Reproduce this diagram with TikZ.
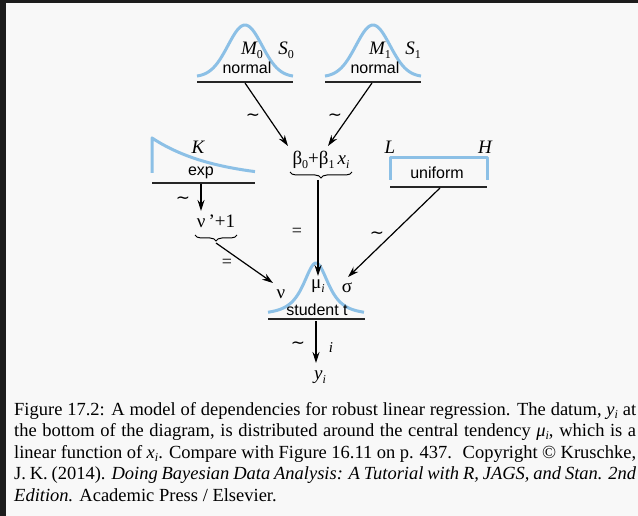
\documentclass[tikz,border=0pt]{standalone}
\usepackage{fontspec}
\setmainfont{Liberation Serif}
\newfontfamily\sansf{Liberation Sans}
\newfontfamily\dejav{DejaVu Sans}
\usetikzlibrary{arrows.meta,decorations.pathreplacing}
\definecolor{bgc}{RGB}{248,248,248}
\definecolor{edgec}{RGB}{28,28,28}
\definecolor{distblue}{RGB}{140,192,230}
\newcommand\sbu[1]{\raisebox{-0.45ex}{\fontsize{12}{12}\selectfont\upshape #1}}
\newcommand\sbi[1]{\raisebox{-0.45ex}{\fontsize{12}{12}\selectfont\itshape #1}}
\newcommand\csub[1]{\raisebox{-0.4ex}{\fontsize{12}{12}\selectfont\itshape #1}}
\newcommand\tld{{\dejav ∼}}
\newcommand\jline[1]{\makebox[622pt][s]{#1}}
\begin{document}
\begin{tikzpicture}[x=1pt,y=-1pt,
  dist/.style={distblue,line width=3pt,line join=round},
  ul/.style={black!85,line width=1.4pt},
  conn/.style={line width=1.2pt,-{Stealth[length=11pt,width=7pt]}},
  lbl/.style={font=\fontsize{16}{16}\selectfont\sansf,inner sep=0pt},
  var/.style={font=\fontsize{19}{19}\selectfont\itshape,inner sep=0pt},
  grk/.style={font=\fontsize{19}{19}\selectfont,inner sep=0pt},
  tl/.style={font=\fontsize{17}{17}\selectfont,inner sep=0pt},
  eqs/.style={font=\fontsize{18}{18}\selectfont,inner sep=0pt},
  brc/.style={decorate,decoration={brace,amplitude=6pt},line width=1pt},
  captxt/.style={font=\fontsize{18.5}{18.5}\selectfont,inner sep=0pt,anchor=base west}]
% background and frame
\fill[bgc] (0,0) rectangle (638,516);
\fill[edgec] (0,0) rectangle (6,516);
\fill[edgec] (0,0) rectangle (638,3);
\useasboundingbox (0,0) rectangle (638,516);

% normal 0
\draw[dist] plot[domain=-48:48,samples=70,smooth] ({245+\x},{77-52*exp(-(\x/17)^2/2)});
\draw[ul] (197,82) -- (293,82);
\coordinate (n0) at (245,83);
\node[var] (M0) at (252,50) {M\sbu{0}};
\node[var] (S0) at (286,50) {S\sbu{0}};
\node[lbl] (norm0) at (247,68) {normal};

% normal 1
\draw[dist] plot[domain=-48:48,samples=70,smooth] ({373+\x},{77-52*exp(-(\x/17)^2/2)});
\draw[ul] (325,82) -- (421,82);
\coordinate (n1) at (372,83);
\node[var] (M1) at (380,50) {M\sbu{1}};
\node[var] (S1) at (413,50) {S\sbu{1}};
\node[lbl] (norm1) at (375,68) {normal};

% linear predictor
\node[grk] (beta) at (321,160) {β\sbu{0}+β\sbu{1}\,\textit{x\sbi{i}}};
\coordinate (b0) at (288,146);
\coordinate (b1) at (328,146);
\draw[conn] (n0) -- (b0);
\draw[conn] (n1) -- (b1);
\node[tl] (t0) at (253,117) {\tld};
\node[tl] (t1) at (335,117) {\tld};
\draw[brc] (352,172) -- (290,172);
\coordinate (btip) at (318,180);

% exp
\draw[dist] (152,173) -- plot[domain=0:103,samples=50,smooth] ({152+\x},{180-42*exp(-\x/64)});
\draw[ul] (152,183) -- (255,183);
\coordinate (e0) at (201,184);
\node[var] (K) at (198,147) {K};
\node[lbl] (expl) at (201,173) {exp};
\coordinate (nutop) at (201,211);
\draw[conn] (e0) -- (nutop);
\node[tl] (t2) at (183,200) {\tld};
\node[grk] (nup) at (216,221) {ν\,'+1};
\draw[brc] (237,235) -- (195,235);
\coordinate (nutip) at (216,243);

% uniform
\draw[dist] (390,180) -- (390,158) -- (487,158) -- (487,180);
\draw[ul] (390,187) -- (487,187);
\coordinate (u0) at (440,188);
\node[var] (L) at (390,147) {L};
\node[var] (H) at (485,147) {H};
\node[lbl] (unif) at (437,173) {uniform};
\node[tl] (t3) at (377,235) {\tld};

% student t
\draw[dist] plot[domain=-48:48,samples=80,smooth] ({316+\x},{315-52*(1+(\x/13.8)^2/2)^(-1.5)});
\draw[ul] (268,319) -- (365,319);
\node[grk] (mu) at (318,286) {μ\sbi{i}};
\node[grk] (nu) at (281,294) {ν};
\node[grk] (sig) at (347,288) {σ};
\node[lbl] (stud) at (317,310) {student t};
\coordinate (mutip) at (318,276);
\coordinate (nutgt) at (273,283);
\coordinate (sigtgt) at (348,277);
\draw[conn] (btip) -- (mutip);
\node[eqs] (eq1) at (297,232) {=};
\draw[conn] (nutip) -- (nutgt);
\node[eqs] (eq2) at (227,263) {=};
\draw[conn] (u0) -- (sigtgt);

% data
\coordinate (s0) at (316,321);
\coordinate (ytop) at (316,363);
\draw[conn] (s0) -- (ytop);
\node[tl] (t4) at (298,345) {\tld};
\node[font=\fontsize{15}{15}\selectfont\itshape,inner sep=0pt] (ii) at (331,348) {i};
\node[var] (y) at (320,377) {y\sbi{i}};

% caption
\node[captxt] (c1) at (14,415) {\jline{Figure 17.2: A model of dependencies for robust linear regression. The datum, \textit{y\csub{i}} at}};
\node[captxt] (c2) at (14,436.5) {\jline{the bottom of the diagram, is distributed around the central tendency \textit{μ\csub{i}}, which is a}};
\node[captxt] (c3) at (14,458) {\jline{linear function of \textit{x\csub{i}}. Compare with Figure 16.11 on p. 437. \ Copyright © Kruschke,}};
\node[captxt] (c4) at (14,479.5) {\jline{J. K. (2014). \textit{Doing Bayesian Data Analysis: A Tutorial with R, JAGS, and Stan. 2nd}}};
\node[captxt] (c5) at (14,501) {\textit{Edition.} Academic Press / Elsevier.};
\end{tikzpicture}
\end{document}
